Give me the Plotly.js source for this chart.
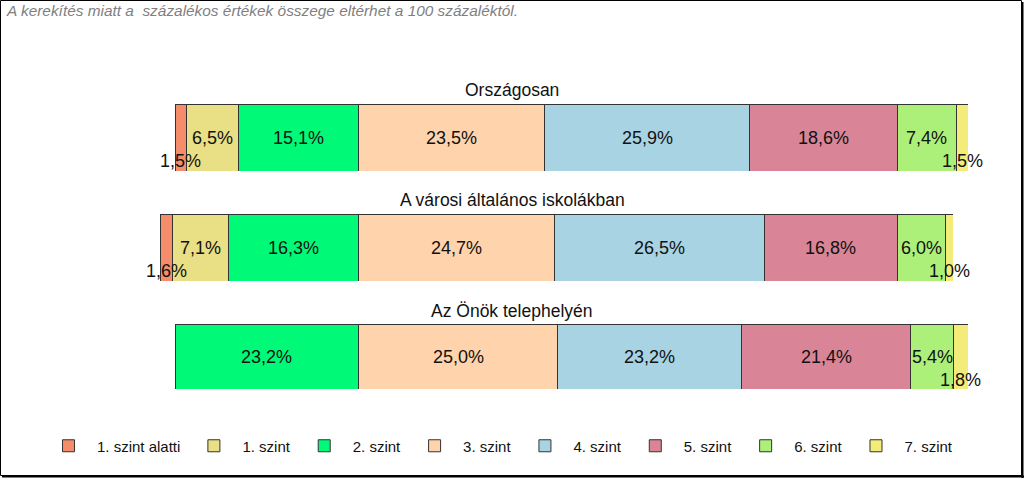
<!DOCTYPE html>
<html>
<head>
<meta charset="utf-8">
<script src="https://cdn.plot.ly/plotly-3.0.1.min.js"></script>
<style>
  body { margin: 0; padding: 0; background: #fff; }
  #plot { width: 1024px; height: 478px; }
</style>
</head>
<body>
<div id="plot"></div>
<script>
const levels = ['1. szint alatti', '1. szint', '2. szint', '3. szint', '4. szint', '5. szint', '6. szint', '7. szint'];
const colors = ['#F58D6B', '#E9DF84', '#00FA78', '#FFD3AC', '#A8D3E3', '#D98597', '#ACF07A', '#F3EC7A'];
const rowTitles = ['Országosan', 'A városi általános iskolákban', 'Az Önök telephelyén'];
const orszagos = [1.5, 6.5, 15.1, 23.5, 25.9, 18.6, 7.4, 1.5];
const varosi = [1.6, 7.1, 16.3, 24.7, 26.5, 16.8, 6.0, 1.0];
const telephely = [0, 0, 23.2, 25.0, 23.2, 21.4, 5.4, 1.8];
const note = 'A kerekítés miatt a  százalékos értékek összege eltérhet a 100 százaléktól.';

const rows = [orszagos, varosi, telephely];
const font = 'Liberation Sans, Arial, sans-serif';

// each row is its own little subplot
const xDomains = [[175 / 1024, 968 / 1024], [160 / 1024, 953 / 1024], [175 / 1024, 968 / 1024]];
const yDomains = [[1 - 171 / 478, 1 - 104 / 478], [1 - 281 / 478, 1 - 214 / 478], [1 - 389 / 478, 1 - 324 / 478]];
const titleY = [1 - 90 / 478, 1 - 200 / 478, 1 - 311 / 478];

function fmt(v) {
    return v.toFixed(1).replace('.', ',') + '%';
}

let traces = [];
let annotations = [];
let layout = {
    width: 1024,
    height: 478,
    margin: { l: 0, r: 0, t: 0, b: 0 },
    paper_bgcolor: '#fff',
    plot_bgcolor: 'rgba(0,0,0,0)',
    barmode: 'stack',
    bargap: 0,
    showlegend: true,
    font: { family: font, size: 15, color: '#111' },
    legend: {
        orientation: 'h',
        x: 40 / 1024, xanchor: 'left',
        y: 1 - 446 / 478, yanchor: 'middle',
        traceorder: 'normal',
        itemwidth: 47,
        font: { family: font, size: 15, color: '#111' }
    }
};

rows.forEach((vals, r) => {
    const xa = r === 0 ? 'x' : 'x' + (r + 1);
    const ya = r === 0 ? 'y' : 'y' + (r + 1);
    const xkey = r === 0 ? 'xaxis' : 'xaxis' + (r + 1);
    const ykey = r === 0 ? 'yaxis' : 'yaxis' + (r + 1);

    layout[xkey] = { domain: xDomains[r], range: [0, 100], visible: false, fixedrange: true, anchor: ya };
    layout[ykey] = { domain: yDomains[r], range: [-0.5, 0.5], visible: false, fixedrange: true, anchor: xa };

    let cum = 0;
    vals.forEach((v, i) => {
        traces.push({
            type: 'bar',
            orientation: 'h',
            x: [v],
            y: [0],
            xaxis: xa,
            yaxis: ya,
            name: levels[i],
            legendgroup: levels[i],
            showlegend: r === 0,
            marker: { color: colors[i], line: { color: '#333', width: 1 } },
            hoverinfo: 'skip',
            textposition: 'none'
        });
        if (v > 0) {
            annotations.push({
                xref: xa, yref: ya,
                x: cum + v / 2, y: 0,
                xanchor: 'center', yanchor: 'middle',
                text: fmt(v),
                showarrow: false,
                yshift: v < 3 ? -23 : 0,
                font: { family: font, size: 18, color: '#111' }
            });
        }
        cum += v;
    });

    annotations.push({
        xref: 'paper', yref: 'paper',
        x: 0.5, y: titleY[r],
        xanchor: 'center', yanchor: 'middle',
        text: rowTitles[r],
        showarrow: false,
        font: { family: font, size: 17.5, color: '#111' }
    });
});

annotations.push({
    xref: 'paper', yref: 'paper',
    x: 4 / 1024, y: 1 - 10 / 478,
    xanchor: 'left', yanchor: 'middle',
    text: '<i>' + note + '</i>',
    showarrow: false,
    font: { family: font, size: 15.4, color: '#7f7f7f' }
});

layout.annotations = annotations;
layout.shapes = [
    { type: 'rect', xref: 'paper', yref: 'paper', x0: 0.5 / 1024, x1: 1 - 2.5 / 1024, y0: 2.5 / 478, y1: 1 - 0.5 / 478,
      line: { color: '#000', width: 1 } },
    { type: 'line', xref: 'paper', yref: 'paper', x0: 1 - 1.5 / 1024, x1: 1 - 1.5 / 1024, y0: 0, y1: 1 - 2 / 478,
      line: { color: '#000', width: 2 } },
    { type: 'line', xref: 'paper', yref: 'paper', x0: 2 / 1024, x1: 1, y0: 1.5 / 478, y1: 1.5 / 478,
      line: { color: '#000', width: 2 } }
];

Plotly.newPlot('plot', traces, layout, { displayModeBar: false, staticPlot: true });
</script>
</body>
</html>
